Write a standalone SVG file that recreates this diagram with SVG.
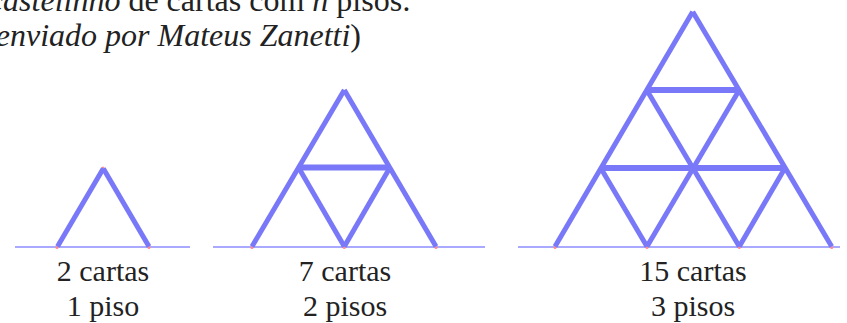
<svg xmlns="http://www.w3.org/2000/svg" width="847" height="323" viewBox="0 0 847 323">
<style>
.t{font-family:"Liberation Serif","Times New Roman",serif;fill:#222;}
.h{font-size:32px;}
.l{font-size:30px;text-anchor:middle;}
.i{font-style:italic;}
.card{stroke:#7878f8;stroke-width:5;stroke-linecap:butt;fill:none;}
.bar{stroke:#7878f8;stroke-width:6;fill:none;}
.ground{stroke:#8c8cff;stroke-width:1.5;}
.dot{fill:#ff8c8c;}
</style>
<rect width="847" height="323" fill="#fff"/>
<g id="heading">
<text class="t h" x="411" y="11" text-anchor="end"><tspan class="i">castelinho</tspan> de cartas com <tspan class="i">n</tspan> pisos:</text>
<text class="t h" x="361" y="46" text-anchor="end">(<tspan class="i">enviado por Mateus Zanetti</tspan>)</text>
</g>
<g id="castle1">
<line class="ground" x1="15" y1="247" x2="190" y2="247"/>
<circle class="dot" cx="57" cy="247.5" r="1.5"/>
<circle class="dot" cx="149" cy="247.5" r="1.5"/>
<circle class="dot" cx="103" cy="168" r="1.5"/>
<line class="card" x1="57.5" y1="246.5" x2="103.3" y2="168.5"/>
<line class="card" x1="103.3" y1="168.5" x2="149" y2="246.5"/>
<text class="t l" x="103" y="281">2 cartas</text>
<text class="t l" x="103" y="316">1 piso</text>
</g>
<g id="castle2">
<line class="ground" x1="213" y1="247" x2="485" y2="247"/>
<circle class="dot" cx="252" cy="247.5" r="1.5"/>
<circle class="dot" cx="344.3" cy="247.5" r="1.5"/>
<circle class="dot" cx="436" cy="247.5" r="1.5"/>
<line class="card" x1="252" y1="246.5" x2="344.3" y2="90"/>
<line class="card" x1="344.3" y1="90" x2="436" y2="246.5"/>
<line class="card" x1="298.5" y1="167.5" x2="344.3" y2="246.5"/>
<line class="card" x1="344.3" y1="246.5" x2="390" y2="167.5"/>
<line class="bar" x1="298.5" y1="167.5" x2="390" y2="167.5"/>
<text class="t l" x="345" y="281">7 cartas</text>
<text class="t l" x="345" y="316">2 pisos</text>
</g>
<g id="castle3">
<line class="ground" x1="518" y1="247" x2="840" y2="247"/>
<circle class="dot" cx="555" cy="247.5" r="1.5"/>
<circle class="dot" cx="647" cy="247.5" r="1.5"/>
<circle class="dot" cx="739.3" cy="247.5" r="1.5"/>
<circle class="dot" cx="831.7" cy="247.5" r="1.5"/>
<circle class="dot" cx="600.5" cy="168" r="1.5"/>
<circle class="dot" cx="785.5" cy="168" r="1.5"/>
<line class="card" x1="555" y1="246.5" x2="692.7" y2="11.7"/>
<line class="card" x1="692.7" y1="11.7" x2="831.7" y2="246.5"/>
<line class="card" x1="646.7" y1="90" x2="739.3" y2="246.5"/>
<line class="card" x1="739.3" y1="90" x2="647" y2="246.5"/>
<line class="card" x1="600.7" y1="168" x2="647" y2="246.5"/>
<line class="card" x1="785" y1="168" x2="739.3" y2="246.5"/>
<line class="bar" x1="646.7" y1="90" x2="739.3" y2="90"/>
<line class="bar" x1="600.7" y1="168" x2="785.5" y2="168"/>
<text class="t l" x="693" y="281">15 cartas</text>
<text class="t l" x="693" y="316">3 pisos</text>
</g>
</svg>
